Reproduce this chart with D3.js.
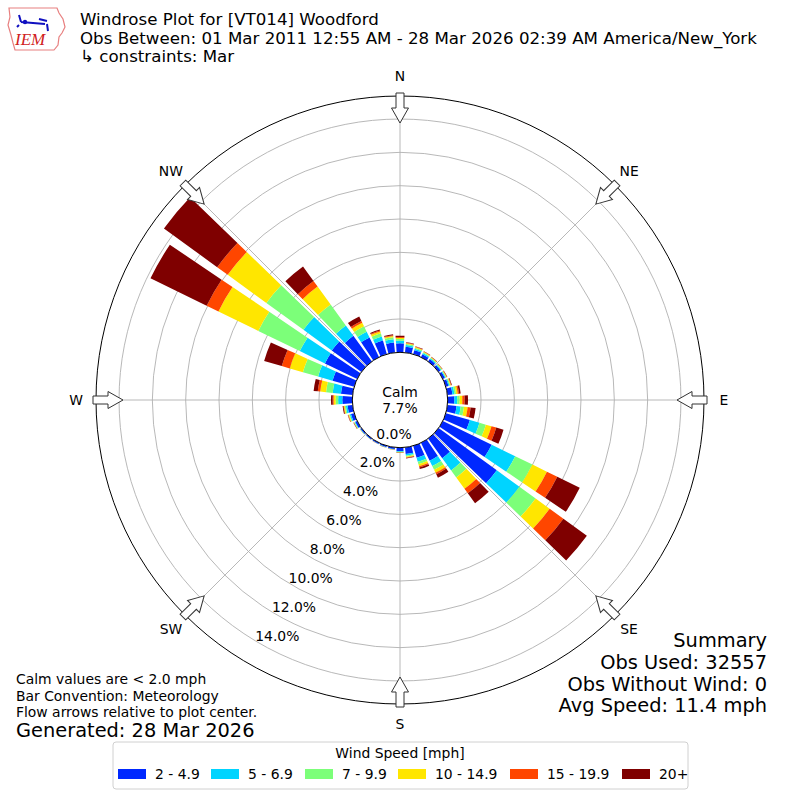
<!DOCTYPE html>
<html>
<head>
<meta charset="utf-8">
<script src="https://cdn.jsdelivr.net/npm/d3@7"></script>
<style>
  body { margin: 0; background: #fff; }
  svg { font-family: "DejaVu Sans", sans-serif; }
</style>
</head>
<body>
<div id="chart"></div>
<script>
// direction bins (deg, meteorological) and percent of obs per speed bin
const directions = d3.range(0, 360, 10);
const speedBins = ['2 - 4.9', '5 - 6.9', '7 - 9.9', '10 - 14.9', '15 - 19.9', '20+'];
const binColors = ['#0028ff', '#00d4ff', '#7cff79', '#ffe600', '#ff4600', '#7f0000'];

const s2to5 = [0.54, 0.35, 0.25, 0.20, 0.17, 0.15, 0.14, 0.17, 0.30, 0.40, 0.55, 1.50,
               3.26, 4.32, 1.45, 1.20, 0.75, 0.40, 0.20, 0.10, 0.08, 0.07, 0.07, 0.08,
               0.13, 0.20, 0.30, 0.60, 0.70, 1.35, 2.15, 2.20, 1.90, 1.31, 0.85, 0.60];
const s5to7 = [0.16, 0.10, 0.09, 0.07, 0.06, 0.05, 0.05, 0.06, 0.12, 0.18, 0.25, 0.60,
               1.57, 1.68, 0.91, 0.35, 0.25, 0.10, 0.05, 0.02, 0.02, 0.015, 0.015, 0.02,
               0.04, 0.07, 0.10, 0.25, 0.50, 0.90, 1.68, 2.10, 0.77, 0.39, 0.25, 0.20];
const s7to10 = [0.10, 0.07, 0.06, 0.05, 0.05, 0.04, 0.04, 0.05, 0.10, 0.14, 0.20, 0.40,
                1.15, 1.20, 0.52, 0.25, 0.15, 0.06, 0.03, 0.01, 0.01, 0.005, 0.005, 0.01,
                0.03, 0.05, 0.07, 0.15, 0.40, 0.95, 2.77, 2.75, 1.55, 0.36, 0.20, 0.13];
const s10to15 = [0.06, 0.04, 0.04, 0.04, 0.03, 0.03, 0.03, 0.04, 0.10, 0.16, 0.22, 0.35,
                 0.97, 1.04, 0.84, 0.20, 0.13, 0.04, 0.02, 0.01, 0.005, 0.005, 0.005, 0.005,
                 0.02, 0.04, 0.05, 0.12, 0.35, 0.82, 2.66, 2.87, 1.33, 0.24, 0.12, 0.07];
const s15to20 = [0.06, 0.03, 0.03, 0.02, 0.02, 0.01, 0.02, 0.03, 0.08, 0.14, 0.18, 0.30,
                 0.69, 1.02, 0.34, 0.10, 0.07, 0.03, 0.01, 0.005, 0.003, 0.003, 0.003, 0.003,
                 0.01, 0.02, 0.03, 0.06, 0.15, 0.50, 0.79, 0.78, 0.42, 0.12, 0.06, 0.05];
const s20up = [0.08, 0.03, 0.03, 0.02, 0.02, 0.02, 0.02, 0.03, 0.10, 0.20, 0.30, 0.45,
               1.50, 1.74, 0.74, 0.23, 0.10, 0.04, 0.01, 0.005, 0.002, 0.002, 0.002, 0.002,
               0.02, 0.02, 0.05, 0.10, 0.25, 1.10, 3.75, 3.95, 1.07, 0.30, 0.06, 0.05];
const series = [s2to5, s5to7, s7to10, s10to15, s15to20, s20up];

const calmPct = 7.7;
const rTicks = [0, 2, 4, 6, 8, 10, 12, 14];
const compass = [['N', 0], ['NE', 45], ['E', 90], ['SE', 135], ['S', 180], ['SW', 225], ['W', 270], ['NW', 315]];
const titleLines = ['Windrose Plot for [VT014] Woodford',
  'Obs Between: 01 Mar 2011 12:55 AM - 28 Mar 2026 02:39 AM America/New_York',
  ' \u21b3 constraints: Mar'];
const summaryLines = ['Summary', 'Obs Used: 32557', 'Obs Without Wind: 0', 'Avg Speed: 11.4 mph'];
const noteLines = ['Calm values are < 2.0 mph', 'Bar Convention: Meteorology', 'Flow arrows relative to plot center.'];

const W = 800, H = 800, cx = 400, cy = 400;
const FS = 13.9;
const totals = directions.map((d, i) => d3.sum(series, s => s[i]));
const rMax = d3.max(totals) * 1.05;
const r = d3.scaleLinear().domain([0, rMax]).range([47.7, 304]);
const toRad = d => d * Math.PI / 180;

const svg = d3.select('#chart').append('svg').attr('width', W).attr('height', H);
const g = svg.append('g').attr('transform', `translate(${cx},${cy})`);

// grid rings + spokes
g.selectAll('circle.ring').data(rTicks).join('circle')
  .attr('r', d => r(d)).attr('fill', 'none').attr('stroke', '#b0b0b0').attr('stroke-width', 0.9);
g.selectAll('line.spoke').data(compass).join('line')
  .attr('x1', 0).attr('y1', 0)
  .attr('x2', d => r(rMax) * Math.sin(toRad(d[1])))
  .attr('y2', d => -r(rMax) * Math.cos(toRad(d[1])))
  .attr('stroke', '#b0b0b0').attr('stroke-width', 0.9);

// stacked bars
const arc = d3.arc();
const halfW = toRad(4);
directions.forEach((dir, i) => {
  let base = 0;
  series.forEach((s, k) => {
    const v = s[i];
    g.append('path')
      .attr('d', arc({ innerRadius: r(base), outerRadius: r(base + v),
        startAngle: toRad(dir) - halfW, endAngle: toRad(dir) + halfW }))
      .attr('fill', binColors[k]);
    base += v;
  });
});

// calm circle
g.append('circle').attr('r', r(0)).attr('fill', '#fff').attr('stroke', '#000').attr('stroke-width', 1);
g.append('text').attr('x', 0).attr('y', -3).attr('text-anchor', 'middle').attr('font-size', FS).text('Calm');
g.append('text').attr('x', 0).attr('y', 13).attr('text-anchor', 'middle').attr('font-size', FS).text(calmPct.toFixed(1) + '%');

// outer frame
g.append('circle').attr('r', r(rMax)).attr('fill', 'none').attr('stroke', '#000').attr('stroke-width', 1);

// radial tick labels
g.selectAll('text.rt').data(rTicks).join('text')
  .attr('x', d => -r(d) * Math.sin(toRad(30)) + 17.8)
  .attr('y', d => r(d) * Math.cos(toRad(30)) - 7.8 + 5)
  .attr('text-anchor', 'middle').attr('font-size', FS)
  .text(d => d.toFixed(1) + '%');

// flow arrows and compass labels
const arrowPts = [[-4, -307], [4, -307], [4, -292], [8.5, -292], [0, -277], [-8.5, -292], [-4, -292]];
compass.forEach(([lbl, ang]) => {
  g.append('polygon').attr('points', arrowPts.map(p => p.join(',')).join(' '))
    .attr('transform', `rotate(${ang})`)
    .attr('fill', '#fff').attr('stroke', '#333').attr('stroke-width', 1);
  const rl = 324;
  g.append('text')
    .attr('x', rl * Math.sin(toRad(ang))).attr('y', -rl * Math.cos(toRad(ang)) + 5)
    .attr('text-anchor', 'middle').attr('font-size', FS).text(lbl);
});

// header
svg.selectAll('text.title').data(titleLines).join('text')
  .attr('x', 80).attr('y', (d, i) => 25 + i * 18.5)
  .attr('font-size', 16.67).text(d => d);

// logo
const logo = svg.append('g').attr('transform', 'translate(7,5)');
logo.append('path')
  .attr('d', 'M2,3 L50,3 L52,8 L56,14 L58,22 L55,28 L52,32 L51,40 L47,45 L8,45 L6,38 L4,30 L1,20 L3,12 Z')
  .attr('fill', 'none').attr('stroke', '#e88080').attr('stroke-width', 1.2);
logo.append('path').attr('d', 'M14,17 L38,19 M14,17 L12,10 M32,14 L40,16 M40,19 L41,26 M10,22 L12,20')
  .attr('fill', 'none').attr('stroke', '#1010c0').attr('stroke-width', 2);
logo.append('circle').attr('cx', 18).attr('cy', 17).attr('r', 2.2).attr('fill', '#1010c0');
logo.append('text').attr('x', 8).attr('y', 40).attr('font-family', '"Liberation Serif", serif')
  .attr('font-style', 'italic').attr('font-size', 17).attr('fill', '#d02020').text('IEM');

// summary
svg.selectAll('text.sum').data(summaryLines).join('text')
  .attr('x', 767).attr('y', (d, i) => 647 + i * 21.8)
  .attr('text-anchor', 'end').attr('font-size', 19.4).text(d => d);

// notes
svg.selectAll('text.note').data(noteLines).join('text')
  .attr('x', 16).attr('y', (d, i) => 684 + i * 16.5)
  .attr('font-size', FS).text(d => d);
svg.append('text').attr('x', 16).attr('y', 737).attr('font-size', 19.4).text('Generated: 28 Mar 2026');

// legend
const leg = svg.append('g');
leg.append('rect').attr('x', 113).attr('y', 742).attr('width', 575).attr('height', 47).attr('rx', 3)
  .attr('fill', '#fff').attr('stroke', '#d0d0d0');
leg.append('text').attr('x', 400).attr('y', 758).attr('text-anchor', 'middle').attr('font-size', FS)
  .text('Wind Speed [mph]');
const legX = [118, 211, 305, 398, 510, 622];
speedBins.forEach((lbl, k) => {
  leg.append('rect').attr('x', legX[k]).attr('y', 769).attr('width', 28).attr('height', 10).attr('fill', binColors[k]);
  leg.append('text').attr('x', legX[k] + 37).attr('y', 779).attr('font-size', FS).text(lbl);
});
</script>
</body>
</html>
